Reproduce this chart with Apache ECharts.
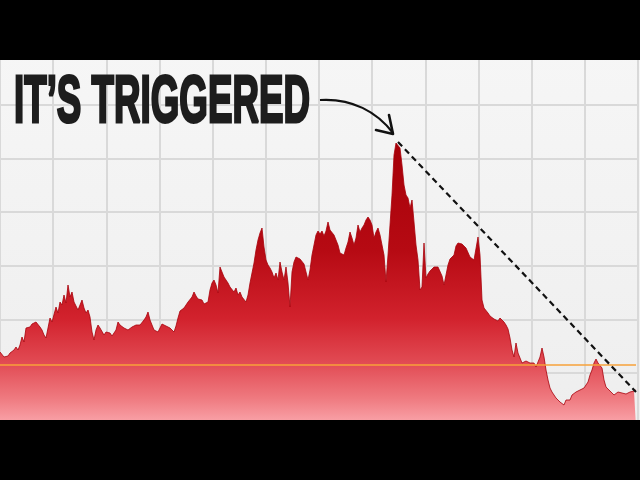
<!DOCTYPE html>
<html>
<head>
<meta charset="utf-8">
<script src="https://cdn.jsdelivr.net/npm/echarts@6/dist/echarts.min.js"></script>
<style>
html,body{margin:0;padding:0;background:#000;}
#chart{width:640px;height:480px;}
</style>
</head>
<body>
<div id="chart"></div>
<script>
// Price series (index points, one sample every 2 px)
const prices = [
  75,74,70,72,71,74,72,77,80,77,
  82,90,85,99,100,100,103,105,105,103,
  100,97,92,89,87,109,105,107,120,114,
  125,122,132,124,142,130,135,125,124,117,
  122,127,119,114,117,110,95,87,97,102,
  99,100,92,95,93,94,91,89,97,105,
  102,104,99,100,97,95,100,99,102,100,
  102,104,107,110,115,107,102,97,99,95,
  99,103,104,101,99,99,97,95,101,109,
  116,118,119,122,125,125,130,135,131,128,
  129,127,123,123,125,137,144,147,142,134,
  160,155,150,147,144,140,139,135,139,132,
  135,130,129,125,132,144,154,164,177,187,
  194,199,180,167,162,159,155,149,154,147,
  165,155,147,160,144,120,155,165,170,168,
  168,167,163,161,147,157,172,182,192,196,
  193,196,191,196,205,197,195,192,187,182,
  174,172,172,179,185,195,189,182,189,202,
  195,199,202,207,210,207,202,189,195,199,
  192,182,172,145,172,202,232,272,284,285,
  279,262,242,232,229,219,227,205,182,167,
  137,140,184,149,153,156,158,160,159,160,
  159,151,142,142,162,168,170,172,181,184,
  183,183,181,179,177,170,170,167,169,190,
  172,127,119,117,114,111,110,108,109,106,
  109,107,105,102,98,89,77,70,84,74,
  69,64,65,66,64,64,65,64,60,65,
  70,79,70,57,47,39,35,34,29,30,
  25,27,22,27,29,27,32,30,35,34,
  37,35,39,42,45,52,57,64,68,64,
  65,59,47,40,38,36,34,32,31,35,
  34,34,33,33,35,35,34,36,37
];
const categories = prices.map((_, i) => 'd' + i);
const referenceLevel = 62.5;          // orange horizontal level
const trendStart = [199, 285];        // peak (index, value)
const trendEnd = [318, 35];           // end of dashed trend line
const title = 'IT\u2019S TRIGGERED';

const chart = echarts.init(document.getElementById('chart'), null, {renderer: 'canvas'});

// fit headline width
const titleFont = 'bold 66px "Liberation Sans Narrow", "Liberation Sans", sans-serif';
const cv = document.createElement('canvas').getContext('2d');
cv.font = titleFont;
const titleW = cv.measureText(title).width;
const titleScale = 296 / titleW;

const gridLine = {show: true, lineStyle: {color: '#d9d9d9', width: 2}};

chart.setOption({
  backgroundColor: {
    type: 'linear', x: 0, y: 0, x2: 0, y2: 1,
    colorStops: [{offset: 0, color: '#f7f7f7'}, {offset: 1, color: '#ededed'}]
  },
  animation: false,
  grid: [
    {left: -4, right: 2, top: 51.5, bottom: 53.5},
    {left: 0, right: 4, top: 60, bottom: 53}
  ],
  xAxis: [
    {gridIndex: 0, type: 'value', min: 0, max: 12, interval: 1,
     axisLine: {show: false}, axisTick: {show: false}, axisLabel: {show: false}, splitLine: gridLine},
    {gridIndex: 1, type: 'category', data: categories, boundaryGap: false, show: false}
  ],
  yAxis: [
    {gridIndex: 0, type: 'value', min: 0, max: 7, interval: 1,
     axisLine: {show: false}, axisTick: {show: false}, axisLabel: {show: false}, splitLine: gridLine},
    {gridIndex: 1, type: 'value', min: 0, max: 367, show: false, splitLine: {show: false}}
  ],
  series: [{
    type: 'line',
    xAxisIndex: 1, yAxisIndex: 1,
    data: prices,
    symbol: 'none',
    silent: true,
    lineStyle: {color: '#a8000a', width: 0.8},
    areaStyle: {
      opacity: 1,
      color: {
        type: 'linear', x: 0, y: 0, x2: 0, y2: 1,
        colorStops: [
          {offset: 0, color: '#a60008'},
          {offset: 0.38, color: '#b60a13'},
          {offset: 0.62, color: '#d2222d'},
          {offset: 0.78, color: '#e24c55'},
          {offset: 0.9, color: '#ef7a80'},
          {offset: 1, color: '#fbaab0'}
        ]
      }
    },
    markLine: {
      silent: true,
      symbol: 'none',
      label: {show: false},
      data: [
        {yAxis: referenceLevel, lineStyle: {color: '#f7a23a', width: 1.5, type: 'solid'}},
        [{coord: trendStart}, {coord: trendEnd, lineStyle: {color: '#111', width: 2.2, type: [6, 4]}}]
      ]
    }
  }],
  graphic: [
    {type: 'rect', z: 100, shape: {x: 0, y: 0, width: 640, height: 60}, style: {fill: '#000'}},
    {type: 'rect', z: 100, shape: {x: 0, y: 420, width: 640, height: 60}, style: {fill: '#000'}},
    {type: 'text', z: 101, x: 14, y: 104, scaleX: titleScale,
     style: {text: title, font: titleFont, fill: '#1d1d1d', verticalAlign: 'middle', align: 'left',
             stroke: '#1d1d1d', lineWidth: 3, lineJoin: 'round',
             shadowBlur: 4, shadowColor: 'rgba(0,0,0,0.35)', shadowOffsetX: 2, shadowOffsetY: 3}},
    {type: 'bezierCurve', z: 101,
     shape: {x1: 320, y1: 100, cpx1: 352, cpy1: 98, cpx2: 377, cpy2: 112, x2: 393, y2: 133},
     style: {stroke: '#111', lineWidth: 2.2, fill: null}},
    {type: 'polyline', z: 101,
     shape: {points: [[376, 130], [393, 134], [389, 115]]},
     style: {stroke: '#111', lineWidth: 2.6, fill: null, lineCap: 'round', lineJoin: 'round'}}
  ]
});
</script>
</body>
</html>
